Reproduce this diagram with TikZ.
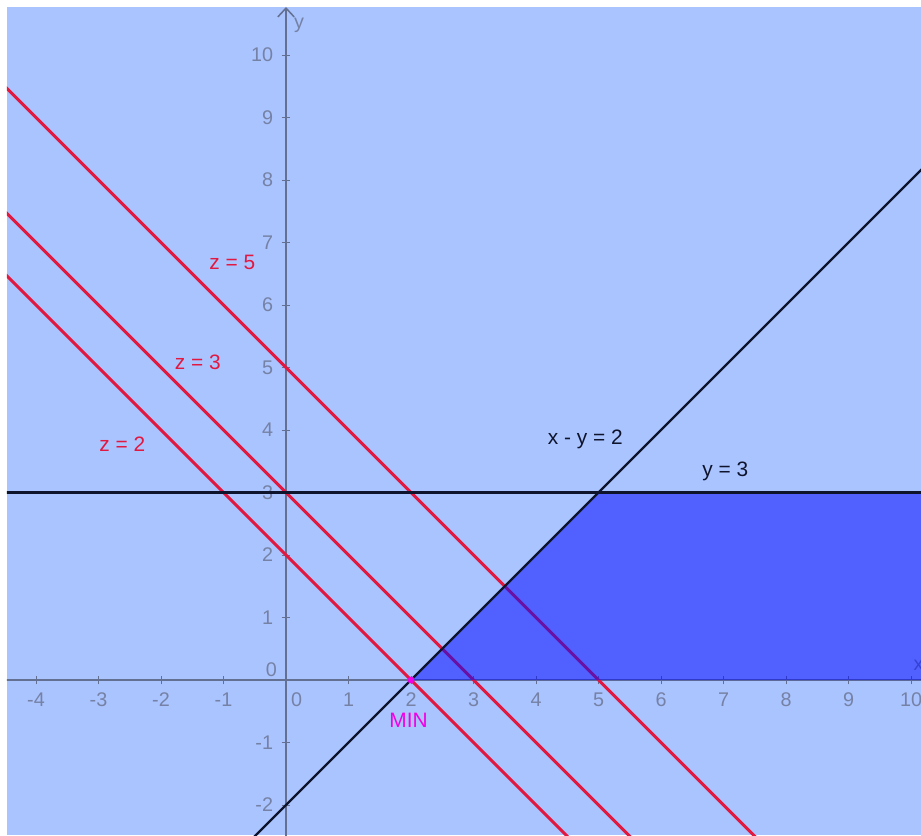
\documentclass[tikz,border=0pt]{standalone}
\usepackage{fontspec}
\setmainfont{Liberation Sans}
\definecolor{bgblue}{RGB}{170,196,255}
\definecolor{axisc}{RGB}{100,112,145}
\definecolor{tickc}{RGB}{118,130,165}
\definecolor{zred}{RGB}{225,25,65}
\definecolor{dline}{RGB}{15,20,45}
\definecolor{regionc}{RGB}{0,10,255}
\definecolor{minc}{RGB}{240,0,230}
\begin{document}
\begin{tikzpicture}[x=1cm,y=1cm,
  axisline/.style={draw=axisc,line width=0.7pt},
  tickmark/.style={draw=axisc,line width=0.45pt},
  ticklab/.style={text=tickc,font=\fontsize{9}{10}\selectfont,inner sep=0pt},
  zline/.style={draw=zred,line width=1.3pt},
  bline/.style={draw=dline,line width=1pt},
  zlab/.style={text=zred,font=\fontsize{9.5}{11}\selectfont,inner sep=0pt},
  blab/.style={text=dline,font=\fontsize{9.5}{11}\selectfont,inner sep=0pt},
  region/.style={fill=regionc,fill opacity=0.53}]
\useasboundingbox (-4.576,-2.48) rectangle (10.16,10.88);
\fill[white] (-4.576,-2.48) rectangle (10.16,10.88);
\fill[bgblue] (-4.464,-2.48) rectangle (10.16,10.77);
\begin{scope}
\clip (-4.464,-2.48) rectangle (10.16,10.77);
% axes
\coordinate (xl) at (-4.6,0);
\coordinate (xr) at (10.4,0);
\coordinate (yb) at (0,-2.6);
\coordinate (yt) at (0,10.75);
\coordinate (ywl) at (-0.13,10.61);
\coordinate (ywr) at (0.13,10.61);
\path[axisline] (xl) -- (xr);
\path[axisline] (yb) -- (yt);
\path[axisline] (ywl) -- (yt) -- (ywr);
\foreach \i in {-4,-3,-2,-1,1,2,3,4,5,6,7,8,9,10}{
  \path[tickmark] (\i,-0.07) -- (\i,0.07);
  \node[ticklab] (tx\i) at (\i,-0.31) {\i};
}
\foreach \j in {-2,-1,1,2,3,4,5,6,7,8,9,10}{
  \path[tickmark] (-0.07,\j) -- (0.07,\j);
  \node[ticklab,anchor=east] (ty\j) at (-0.2,\j) {\j};
}
\node[ticklab] (tx0) at (0.17,-0.31) {0};
\node[ticklab,anchor=east] (ty0) at (-0.14,0.16) {0};
\node[ticklab] (ylab) at (0.21,10.48) {y};
\node[ticklab] (xlab) at (10.12,0.24) {x};
% objective lines
\coordinate (a2) at (-5,7); \coordinate (b2) at (5,-3);
\coordinate (a3) at (-5,8); \coordinate (b3) at (6,-3);
\coordinate (a5) at (-5,10); \coordinate (b5) at (8,-3);
\path[zline] (a2) -- (b2);
\path[zline] (a3) -- (b3);
\path[zline] (a5) -- (b5);
% feasible region
\coordinate (p1) at (2,0);
\coordinate (p2) at (5,3);
\coordinate (p3) at (10.3,3);
\coordinate (p4) at (10.3,0);
\path[region] (p1) -- (p2) -- (p3) -- (p4) -- cycle;
% constraint lines
\coordinate (c1) at (-0.6,-2.6);
\coordinate (c2) at (10.3,8.3);
\coordinate (h1) at (-4.6,3);
\coordinate (h2) at (10.3,3);
\path[bline] (c1) -- (c2);
\path[bline] (h1) -- (h2);
\end{scope}
% labels
\node[zlab] (lz5) at (-0.86,6.68) {z = 5};
\node[zlab] (lz3) at (-1.41,5.08) {z = 3};
\node[zlab] (lz2) at (-2.62,3.78) {z = 2};
\node[blab] (lxy) at (4.79,3.85) {x - y = 2};
\node[blab] (ly3) at (7.03,3.34) {y = 3};
\fill[minc] (p1) circle (0.055);
\node[text=minc,font=\fontsize{9.5}{11}\selectfont,inner sep=0pt] (minlab) at (1.96,-0.64) {MIN};
\end{tikzpicture}
\end{document}
